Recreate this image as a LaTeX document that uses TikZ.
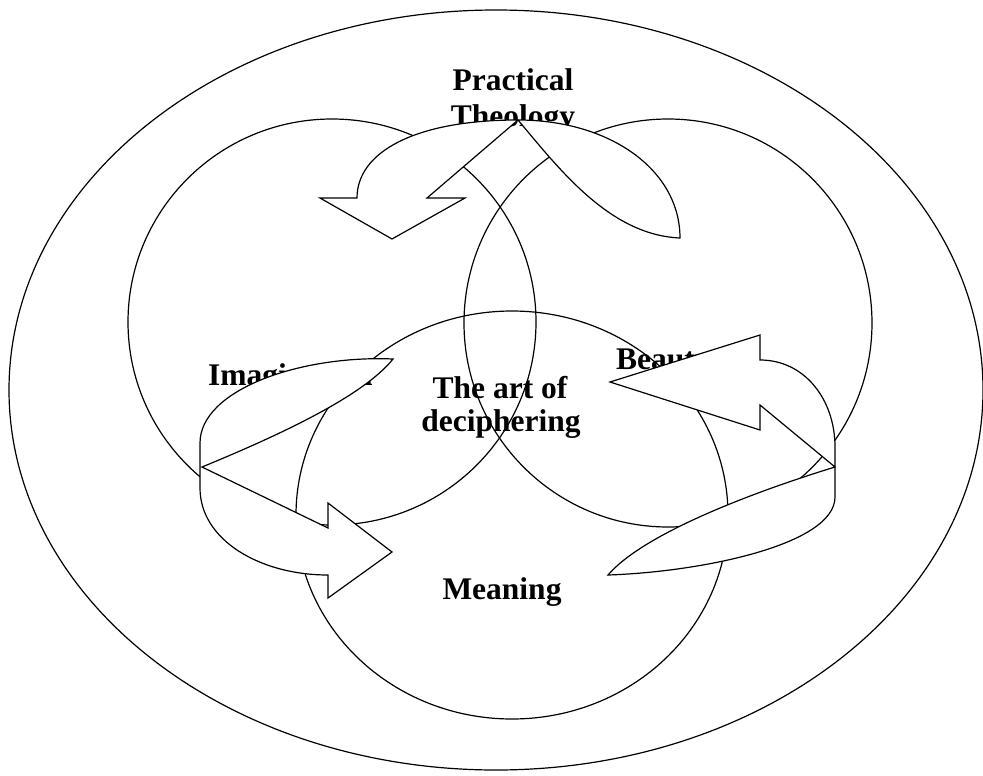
\documentclass[tikz,border=0pt]{standalone}
\usepackage{fontspec}
\setmainfont{Liberation Serif}
\begin{document}
\begin{tikzpicture}[x=1pt,y=-1pt,
  ring/.style={draw, line width=1.2pt},
  bigarrow/.style={draw, fill=white, line width=1.2pt, line join=miter},
  lbl/.style={font=\fontsize{31.5}{33}\selectfont\bfseries, inner sep=0pt, anchor=base}]
\useasboundingbox (0,0) rectangle (983,776);
% circles
\draw[ring] (496,390) ellipse [x radius=487, y radius=380];
\draw[ring] (332,322) ellipse [x radius=204, y radius=203];
\draw[ring] (668,323) ellipse [x radius=204, y radius=204];
\draw[ring] (512,515) ellipse [x radius=216, y radius=204];
% labels
\node[lbl] (pt1) at (513,91) {Practical};
\node[lbl] (pt2) at (513,126) {Theology};
\node[lbl, anchor=base west] (img) at (208,385) {Imagination};
\node[lbl, anchor=base west] (bea) at (616,369) {Beauty};
\node[lbl] (art1) at (500,398) {The art of};
\node[lbl] (art2) at (501,431) {deciphering};
\node[lbl] (mean) at (502,599) {Meaning};
% top curved arrow
\draw[bigarrow] (357,198) .. controls (357,152) and (415,120) .. (518,120)
  .. controls (610,120) and (680,170) .. (680,238)
  .. controls (610,235) and (560,170) .. (518,120)
  -- (427,198) -- (465,198) -- (392,239) -- (320,198) -- cycle;
% left curved arrow
\draw[bigarrow] (202,467) .. controls (270,439) and (362,398) .. (393,359)
  .. controls (300,355) and (200,390) .. (200,443)
  -- (200,488) .. controls (200,540) and (260,575) .. (328,575)
  -- (328,598) -- (392,552) -- (328,503) -- (328,528) -- cycle;
% right curved arrow
\draw[bigarrow] (835,467) .. controls (760,490) and (645,532) .. (608,575)
  .. controls (700,572) and (835,545) .. (835,497)
  -- (835,447) .. controls (835,400) and (805,360) .. (760,360)
  -- (760,335) -- (610,382) -- (760,430) -- (760,405) -- cycle;
\end{tikzpicture}
\end{document}
